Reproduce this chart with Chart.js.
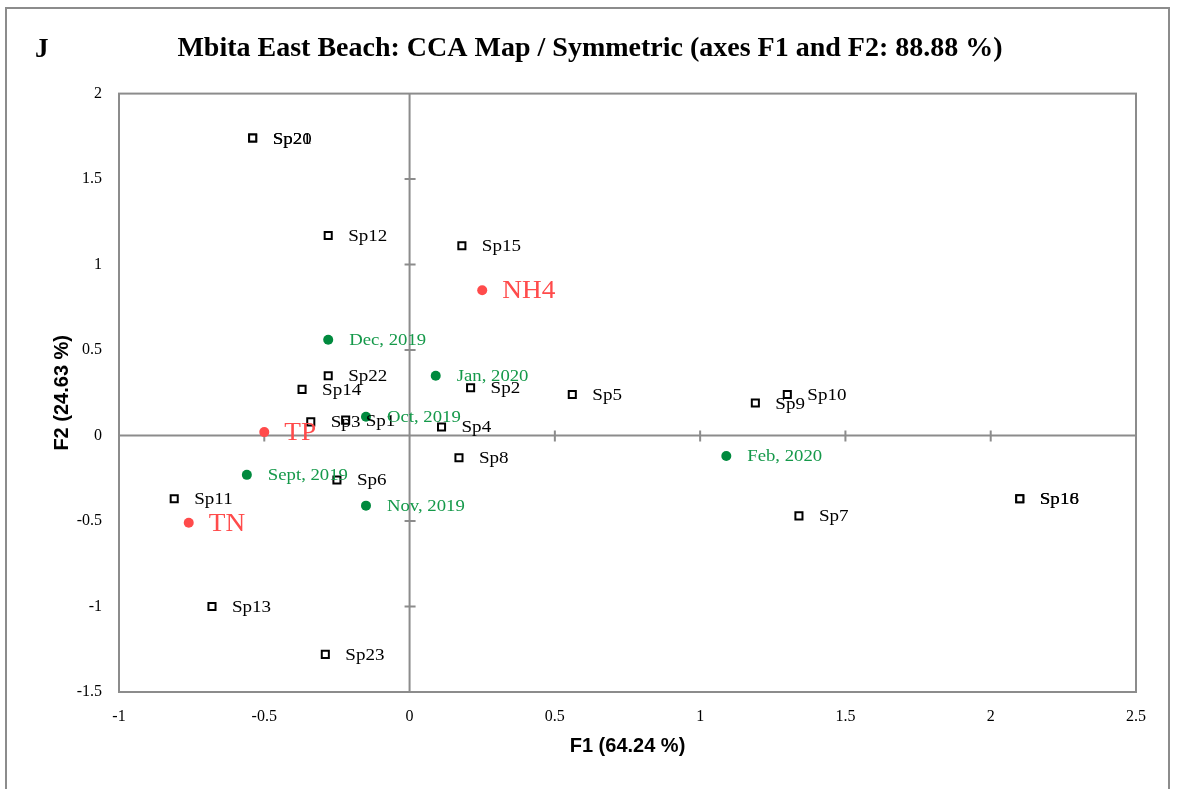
<!DOCTYPE html>
<html>
<head>
<meta charset="utf-8">
<script src="https://cdn.jsdelivr.net/npm/chart.js@4.4.1/dist/chart.umd.min.js"></script>
<style>
  html, body { margin: 0; padding: 0; background: #fff; }
  #wrap { position: relative; width: 1180px; height: 789px; overflow: hidden; }
  #frame { position: absolute; left: 5px; top: 7px; width: 1165px; height: 820px; border: 2px solid #8c8c8c; box-sizing: border-box; }
  #letter { position: absolute; left: 35px; top: 33px; font: bold 27px "Liberation Serif", serif; color: #000; }
  canvas { position: absolute; left: 0; top: 0; }
</style>
</head>
<body>
<div id="wrap">
  <div id="frame"></div>
  <canvas id="cca" width="1180" height="789"></canvas>
  <div id="letter">J</div>
</div>
<script>
// species scores (F1, F2)
const speciesLabels = ['Sp20', 'Sp21', 'Sp12', 'Sp15', 'Sp22', 'Sp14', 'Sp3', 'Sp1', 'Sp2', 'Sp5', 'Sp4', 'Sp8', 'Sp6', 'Sp11', 'Sp13', 'Sp23', 'Sp9', 'Sp10', 'Sp7', 'Sp16', 'Sp18'];
const speciesF1 = [-0.54, -0.54, -0.28, 0.18, -0.28, -0.37, -0.34, -0.22, 0.21, 0.56, 0.11, 0.17, -0.25, -0.81, -0.68, -0.29, 1.19, 1.30, 1.34, 2.10, 2.10];
const speciesF2 = [1.74, 1.74, 1.17, 1.11, 0.35, 0.27, 0.08, 0.09, 0.28, 0.24, 0.05, -0.13, -0.26, -0.37, -1.00, -1.28, 0.19, 0.24, -0.47, -0.37, -0.37];

// sampling months
const monthLabels = ['Dec, 2019', 'Jan, 2020', 'Oct, 2019', 'Sept, 2019', 'Nov, 2019', 'Feb, 2020'];
const monthF1 = [-0.28, 0.09, -0.15, -0.56, -0.15, 1.09];
const monthF2 = [0.56, 0.35, 0.11, -0.23, -0.41, -0.12];

// environmental variables
const varLabels = ['NH4', 'TP', 'TN'];
const varF1 = [0.25, -0.50, -0.76];
const varF2 = [0.85, 0.02, -0.51];

const xTicks = [-1, -0.5, 0, 0.5, 1, 1.5, 2, 2.5];
const yTicks = [-1.5, -1, -0.5, 0, 0.5, 1, 1.5, 2];

const axisGray = '#8c8c8c';
const serif = '"Liberation Serif", "Times New Roman", serif';
const sans = '"Liberation Sans", Arial, sans-serif';

function toPoints(xs, ys) {
    return xs.map((x, i) => ({ x: x, y: ys[i] }));
}

// labels to the right of each point (source text is a bit stretched horizontally)
const pointLabels = {
    id: 'pointLabels',
    afterDatasetsDraw(chart) {
        const ctx = chart.ctx;
        chart.data.datasets.forEach((ds, di) => {
            const meta = chart.getDatasetMeta(di);
            meta.data.forEach((pt, i) => {
                ctx.save();
                ctx.font = ds.labelFont;
                ctx.fillStyle = ds.labelColor;
                ctx.textAlign = 'left';
                ctx.textBaseline = 'middle';
                ctx.translate(pt.x + ds.labelOffset, pt.y + 1);
                ctx.scale(ds.labelStretch, 1);
                ctx.fillText(ds.labels[i], 0, 0);
                ctx.restore();
            });
        });
    }
};

// plot frame plus small ticks on the zero axes
const frameAndTicks = {
    id: 'frameAndTicks',
    beforeDatasetsDraw(chart) {
        const { ctx, chartArea: a, scales: { x, y } } = chart;
        ctx.save();
        ctx.strokeStyle = axisGray;
        ctx.lineWidth = 2;
        ctx.strokeRect(a.left, a.top, a.right - a.left, a.bottom - a.top);
        const x0 = x.getPixelForValue(0);
        const y0 = y.getPixelForValue(0);
        ctx.beginPath();
        ctx.moveTo(a.left, y0); ctx.lineTo(a.right, y0);
        ctx.moveTo(x0, a.top); ctx.lineTo(x0, a.bottom);
        xTicks.slice(1, -1).forEach(v => {
            const px = x.getPixelForValue(v);
            ctx.moveTo(px, y0 - 5); ctx.lineTo(px, y0 + 6);
        });
        yTicks.slice(1, -1).forEach(v => {
            const py = y.getPixelForValue(v);
            ctx.moveTo(x0 - 5, py); ctx.lineTo(x0 + 6, py);
        });
        ctx.stroke();
        ctx.restore();
    }
};

const config = {
    type: 'scatter',
    data: {
        datasets: [
            {
                label: 'Species',
                data: toPoints(speciesF1, speciesF2),
                labels: speciesLabels,
                pointStyle: 'rect',
                pointRadius: 5,
                borderWidth: 2,
                borderColor: '#000',
                backgroundColor: '#fff',
                labelFont: '17px ' + serif,
                labelColor: '#000',
                labelOffset: 20,
                labelStretch: 1.12
            },
            {
                label: 'Months',
                data: toPoints(monthF1, monthF2),
                labels: monthLabels,
                pointStyle: 'circle',
                pointRadius: 5,
                borderWidth: 0,
                backgroundColor: '#008a3e',
                borderColor: '#008a3e',
                labelFont: '16px ' + serif,
                labelColor: '#15994a',
                labelOffset: 21,
                labelStretch: 1.17
            },
            {
                label: 'Variables',
                data: toPoints(varF1, varF2),
                labels: varLabels,
                pointStyle: 'circle',
                pointRadius: 5,
                borderWidth: 0,
                backgroundColor: '#ff4b4b',
                borderColor: '#ff4b4b',
                labelFont: '26px ' + serif,
                labelColor: '#ff4b4b',
                labelOffset: 20,
                labelStretch: 1.05
            }
        ]
    },
    options: {
        responsive: false,
        animation: false,
        layout: { padding: 0 },
        plugins: {
            legend: { display: false },
            tooltip: { enabled: false },
            title: {
                display: true,
                text: 'Mbita East Beach: CCA Map / Symmetric (axes F1 and F2: 88.88 %)',
                color: '#000',
                font: { family: serif, size: 28, weight: 'bold' },
                padding: { top: 32, bottom: 28 }
            }
        },
        scales: {
            x: {
                type: 'linear',
                min: -1,
                max: 2.5,
                afterBuildTicks: s => { s.ticks = xTicks.map(v => ({ value: v })); },
                afterFit: s => { s.height = 97; },
                grid: { display: false, drawTicks: false },
                border: { display: false },
                ticks: {
                    padding: 15,
                    color: '#000',
                    font: { family: serif, size: 16 },
                    maxRotation: 0,
                    callback: v => String(v)
                },
                title: {
                    display: true,
                    text: 'F1 (64.24 %)',
                    color: '#000',
                    font: { family: sans, size: 20, weight: 'bold' },
                    padding: { top: 0, bottom: 31 }
                }
            },
            y: {
                type: 'linear',
                min: -1.5,
                max: 2,
                afterBuildTicks: s => { s.ticks = yTicks.map(v => ({ value: v })); },
                afterFit: s => { s.width = 119; },
                grid: { display: false, drawTicks: false },
                border: { display: false },
                ticks: {
                    padding: 17,
                    color: '#000',
                    font: { family: serif, size: 16 },
                    callback: v => String(v)
                },
                title: {
                    display: true,
                    text: 'F2 (24.63 %)',
                    color: '#000',
                    font: { family: sans, size: 20, weight: 'bold' },
                    padding: { top: 50, bottom: 0 }
                }
            },
            // empty right-hand gutter so the title centres over the whole page
            yRight: {
                axis: 'y',
                type: 'linear',
                position: 'right',
                min: -1.5,
                max: 2,
                afterFit: s => { s.width = 44; },
                grid: { display: false, drawTicks: false },
                border: { display: false },
                ticks: { display: false }
            }
        }
    },
    plugins: [frameAndTicks, pointLabels]
};

new Chart(document.getElementById('cca'), config);
</script>
</body>
</html>
